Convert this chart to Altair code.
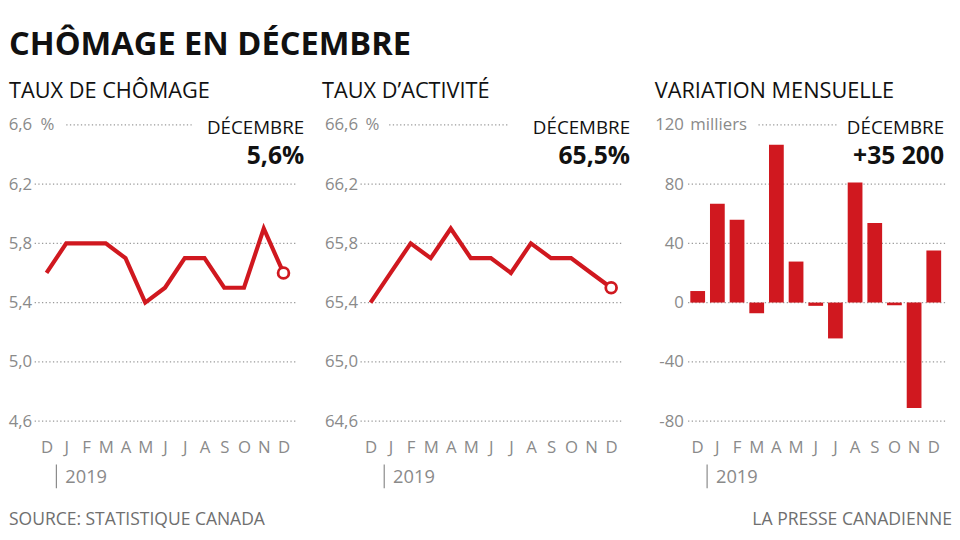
import altair as alt
import pandas as pd

# ---------------- data ----------------
month_letters = ["D", "J", "F", "M", "A", "M", "J", "J", "A", "S", "O", "N", "D"]
month_index = list(range(13))
taux_chomage = [5.6, 5.8, 5.8, 5.8, 5.7, 5.4, 5.5, 5.7, 5.7, 5.5, 5.5, 5.9, 5.6]
taux_activite = [65.4, 65.6, 65.8, 65.7, 65.9, 65.7, 65.7, 65.6, 65.8, 65.7, 65.7, 65.6, 65.5]
variation = [7.8, 66.8, 55.9, -7.2, 106.5, 27.7, -2.2, -24.2, 81.1, 53.7, -1.8, -71.2, 35.2]

ticks_chomage = [6.6, 6.2, 5.8, 5.4, 5.0, 4.6]
ticks_activite = [66.6, 66.2, 65.8, 65.4, 65.0, 64.6]
ticks_variation = [120, 80, 40, 0, -40, -80]

FONT = "Open Sans"
RED = "#d0181f"
GRAY = "#8a8a8a"
DARK = "#111111"
GRID = "#9a9a9a"

letters_js = "[" + ",".join("'%s'" % m for m in month_letters) + "]"


def txt(t, x, y, size, color=DARK, weight="normal", align="left", baseline="alphabetic"):
    return alt.Chart(pd.DataFrame({"t": [t]})).mark_text(
        font=FONT, fontSize=size, color=color, fontWeight=weight,
        align=align, baseline=baseline
    ).encode(x=alt.value(x), y=alt.value(y), text="t:N")


def panel(values, ticks, unit, unit_x, top_x, top_x2, title, title_x, big, kind,
          year_x, width, xpad=0.6, decimals=True):
    df = pd.DataFrame({"i": month_index, "v": values})
    dom = [min(ticks), max(ticks)]
    yscale = alt.Scale(domain=dom, nice=False, zero=False)
    if decimals:
        lab = "replace(format(datum.value, '.1f'), '.', ',')"
    else:
        lab = "'' + datum.value"
    yaxis = alt.Axis(values=ticks, labelExpr=lab, grid=False, domain=False, ticks=False,
                     labelPadding=3, title=None, labelFont=FONT, labelFontSize=17,
                     labelColor=GRAY)
    xaxis = alt.Axis(labelExpr=letters_js + "[datum.value]", labelAngle=0, domain=False,
                     ticks=False, labelPadding=19, labelFontSize=17, labelColor=GRAY,
                     labelFont=FONT, title=None)
    if kind == "bar":
        xscale = alt.Scale(paddingInner=0.25, paddingOuter=0.2)
    else:
        xscale = alt.Scale(type="point", padding=xpad)

    Y = lambda f: alt.Y(f, scale=yscale, axis=yaxis)
    X = lambda f: alt.X(f, scale=xscale, axis=xaxis)

    grid_df = pd.DataFrame({"g": ticks[1:]})
    grid = alt.Chart(grid_df).mark_rule(color=GRID, strokeDash=[1.3, 2.4], strokeWidth=1.3).encode(
        y=Y("g:Q")
    )
    top = alt.Chart(pd.DataFrame({"g": [ticks[0]]})).mark_rule(
        color=GRID, strokeDash=[1.3, 2.4], strokeWidth=1.3
    ).encode(y=Y("g:Q"), x=alt.value(top_x), x2=alt.value(top_x2))
    unit_t = alt.Chart(pd.DataFrame({"g": [ticks[0]], "t": [unit]})).mark_text(
        font=FONT, fontSize=17, color=GRAY, align="left", baseline="middle"
    ).encode(y=Y("g:Q"), x=alt.value(unit_x), text="t:N")

    layers = [grid, top, unit_t]
    if kind == "bar":
        bars = alt.Chart(df).mark_bar(color=RED).encode(
            x=X("i:O"),
            y=Y("v:Q"),
            y2=alt.datum(0),
        )
        layers.append(bars)
    else:
        line = alt.Chart(df).mark_line(color=RED, strokeWidth=4.2, strokeJoin="miter").encode(
            x=X("i:O"), y=Y("v:Q"),
        )
        pt = alt.Chart(df).transform_filter(alt.datum.i == 12).mark_point(
            filled=True, fill="white", stroke=RED, strokeWidth=2.8, size=120, opacity=1
        ).encode(x=X("i:O"), y=Y("v:Q"))
        layers += [line, pt]

    rx = width + 9 if kind != "bar" else width - 1
    layers += [
        txt(title, title_x, -27, 22),
        txt("DÉCEMBRE", rx, 9, 19, align="right"),
        txt(big, rx, 40, 25, weight="bold", align="right"),
        alt.Chart(pd.DataFrame({"a": [0]})).mark_rule(color=GRAY, strokeWidth=1.2).encode(
            x=alt.value(year_x), y=alt.value(344), y2=alt.value(368)),
        txt("2019", year_x + 9, 363, 18.5, color=GRAY),
    ]
    return alt.layer(*layers).properties(width=width, height=300)


p1 = panel(taux_chomage, ticks_chomage, "%", 6, 32, 159, "TAUX DE CHÔMAGE", -26, "5,6%",
           "line", 22, 264, xpad=0.6)
p2 = panel(taux_activite, ticks_activite, "%", 5, 29, 151, "TAUX D\u2019ACTIVITÉ", -39, "65,5%",
           "line", 24, 264, xpad=0.5)
p3 = panel(variation, ticks_variation, "milliers", 4, 73, 154, "VARIATION MENSUELLE", -32,
           "+35 200", "bar", 21, 262, decimals=False)

# header / footer / bounds anchored in first panel
extra = [
    txt("CHÔMAGE EN DÉCEMBRE", -26, -71, 33, weight="bold"),
    txt("SOURCE: STATISTIQUE CANADA", -26, 405, 17.7, color="#6f6f6f"),
    alt.Chart(pd.DataFrame({"a": [0]})).mark_rect(opacity=0).encode(
        x=alt.value(-26), x2=alt.value(918), y=alt.value(-115), y2=alt.value(409)),
]
p1 = alt.layer(p1, *extra)
p3 = alt.layer(p3, txt("LA PRESSE CANADIENNE", 269, 405, 17.8, color="#6f6f6f", align="right"))

chart = alt.hconcat(p1, p2, p3, spacing=66, bounds="flush").properties(
    padding=0, background="white"
).configure_view(stroke=None)

chart.save("out.html", embed_options={"renderer": "svg", "actions": False})
